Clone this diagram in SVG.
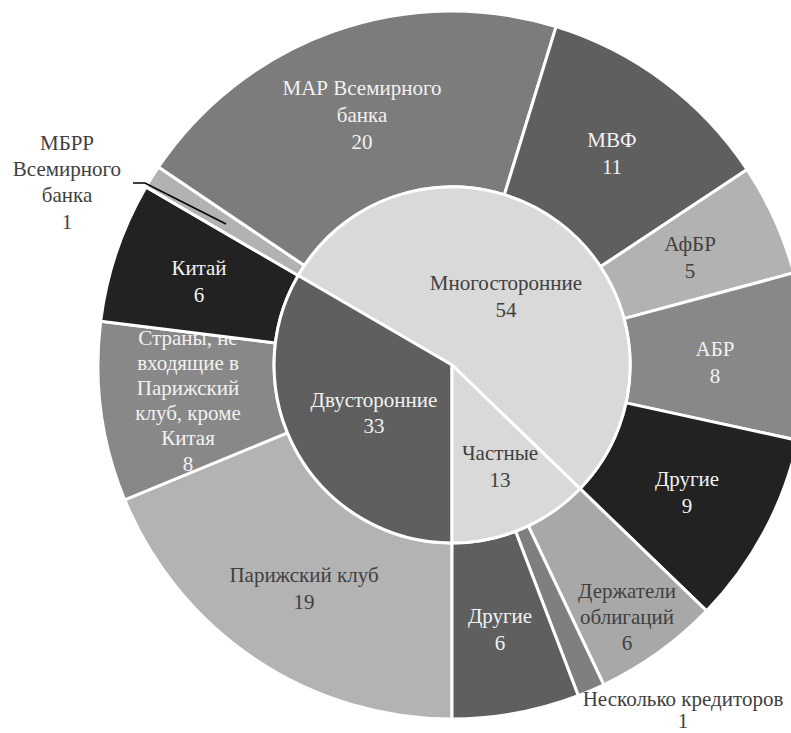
<svg xmlns="http://www.w3.org/2000/svg" width="791" height="733" viewBox="0 0 791 733">
<style>
.seg{stroke:#fff;stroke-width:3;stroke-linejoin:round}
text{font-family:"Liberation Serif","Times New Roman",serif;font-size:21px;text-anchor:middle}
.lt{fill:#f2f2f2}
.dk{fill:#404040}
</style>
<rect width="791" height="733" fill="#fff"/>
<g id="outer-ring">
<g id="paris-club"><path class="seg" fill="#b3b3b3" d="M452,719 A354,354 0 0 1 124.7,499.9 L287.4,432.8 A178,178 0 0 0 452,543 Z"/>
<text class="dk" x="304" y="582">Парижский клуб</text><text class="dk" x="304" y="609">19</text></g>
<g id="non-paris"><path class="seg" fill="#888888" d="M124.7,499.9 A354,354 0 0 1 100.7,321.2 L275.4,343 A178,178 0 0 0 287.4,432.8 Z"/>
<text class="lt" x="188" y="345">Страны, не</text><text class="lt" x="188" y="370">входящие в</text><text class="lt" x="188" y="395">Парижский</text><text class="lt" x="188" y="420">клуб, кроме</text><text class="lt" x="188" y="445">Китая</text><text class="lt" x="188" y="471">8</text></g>
<g id="china"><path class="seg" fill="#222222" d="M100.7,321.2 A354,354 0 0 1 146,186.9 L298.2,275.5 A178,178 0 0 0 275.4,343 Z"/>
<text class="lt" x="199" y="275">Китай</text><text class="lt" x="199" y="302">6</text></g>
<g id="ibrd"><path class="seg" fill="#b2b2b2" d="M146,186.9 A354,354 0 0 1 158.5,167 L304.4,265.5 A178,178 0 0 0 298.2,275.5 Z"/>
<text class="dk" x="67" y="150">МБРР</text><text class="dk" x="67" y="176">Всемирного</text><text class="dk" x="67" y="202">банка</text><text class="dk" x="67" y="229">1</text></g>
<g id="ida"><path class="seg" fill="#7c7c7c" d="M158.5,167 A354,354 0 0 1 556.1,26.6 L504.3,194.9 A178,178 0 0 0 304.4,265.5 Z"/>
<text class="lt" x="362" y="95">МАР Всемирного</text><text class="lt" x="362" y="122">банка</text><text class="lt" x="362" y="149">20</text></g>
<g id="imf"><path class="seg" fill="#5f5f5f" d="M556.1,26.6 A354,354 0 0 1 747.2,169.6 L600.4,266.8 A178,178 0 0 0 504.3,194.9 Z"/>
<text class="lt" x="612" y="147">МВФ</text><text class="lt" x="612" y="174">11</text></g>
<g id="afdb"><path class="seg" fill="#b2b2b2" d="M747.2,169.6 A354,354 0 0 1 793.8,272.8 L623.9,318.6 A178,178 0 0 0 600.4,266.8 Z"/>
<text class="dk" x="690" y="251">АфБР</text><text class="dk" x="690" y="278">5</text></g>
<g id="adb"><path class="seg" fill="#888888" d="M793.8,272.8 A354,354 0 0 1 797.9,440.4 L625.9,402.9 A178,178 0 0 0 623.9,318.6 Z"/>
<text class="lt" x="715" y="356">АБР</text><text class="lt" x="715" y="383">8</text></g>
<g id="multi-other"><path class="seg" fill="#222222" d="M797.9,440.4 A354,354 0 0 1 706.6,610.9 L580,488.7 A178,178 0 0 0 625.9,402.9 Z"/>
<text class="lt" x="687" y="486">Другие</text><text class="lt" x="687" y="513">9</text></g>
<g id="bondholders"><path class="seg" fill="#a8a8a8" d="M706.6,610.9 A354,354 0 0 1 603.8,684.8 L528.3,525.8 A178,178 0 0 0 580,488.7 Z"/>
<text class="dk" x="627" y="598">Держатели</text><text class="dk" x="627" y="624">облигаций</text><text class="dk" x="627" y="650">6</text></g>
<g id="several"><path class="seg" fill="#7f7f7f" d="M603.8,684.8 A354,354 0 0 1 578.3,695.7 L515.5,531.3 A178,178 0 0 0 528.3,525.8 Z"/>
<text class="dk" x="683" y="706">Несколько кредиторов</text><text class="dk" x="683" y="728">1</text></g>
<g id="private-other"><path class="seg" fill="#5f5f5f" d="M578.3,695.7 A354,354 0 0 1 452,719 L452,543 A178,178 0 0 0 515.5,531.3 Z"/>
<text class="lt" x="500" y="623">Другие</text><text class="lt" x="500" y="650">6</text></g>
</g>
<g id="inner-pie">
<g id="multilateral"><path class="seg" fill="#d9d9d9" d="M452,365 L298.2,275.5 A178,178 0 1 1 580,488.7 Z"/>
<text class="dk" x="506" y="290">Многосторонние</text><text class="dk" x="506" y="317">54</text></g>
<g id="bilateral"><path class="seg" fill="#5f5f5f" d="M452,365 L452,543 A178,178 0 0 1 298.2,275.5 Z"/>
<text class="lt" x="374" y="407">Двусторонние</text><text class="lt" x="374" y="433">33</text></g>
<g id="private"><path class="seg" fill="#d9d9d9" d="M452,365 L580,488.7 A178,178 0 0 1 452,543 Z"/>
<text class="dk" x="500" y="460">Частные</text><text class="dk" x="500" y="487">13</text></g>
</g>
<g id="connectors">
<polyline points="133,183 145,183 226,224" fill="none" stroke="#000" stroke-width="1.5"/>
</g>
</svg>
